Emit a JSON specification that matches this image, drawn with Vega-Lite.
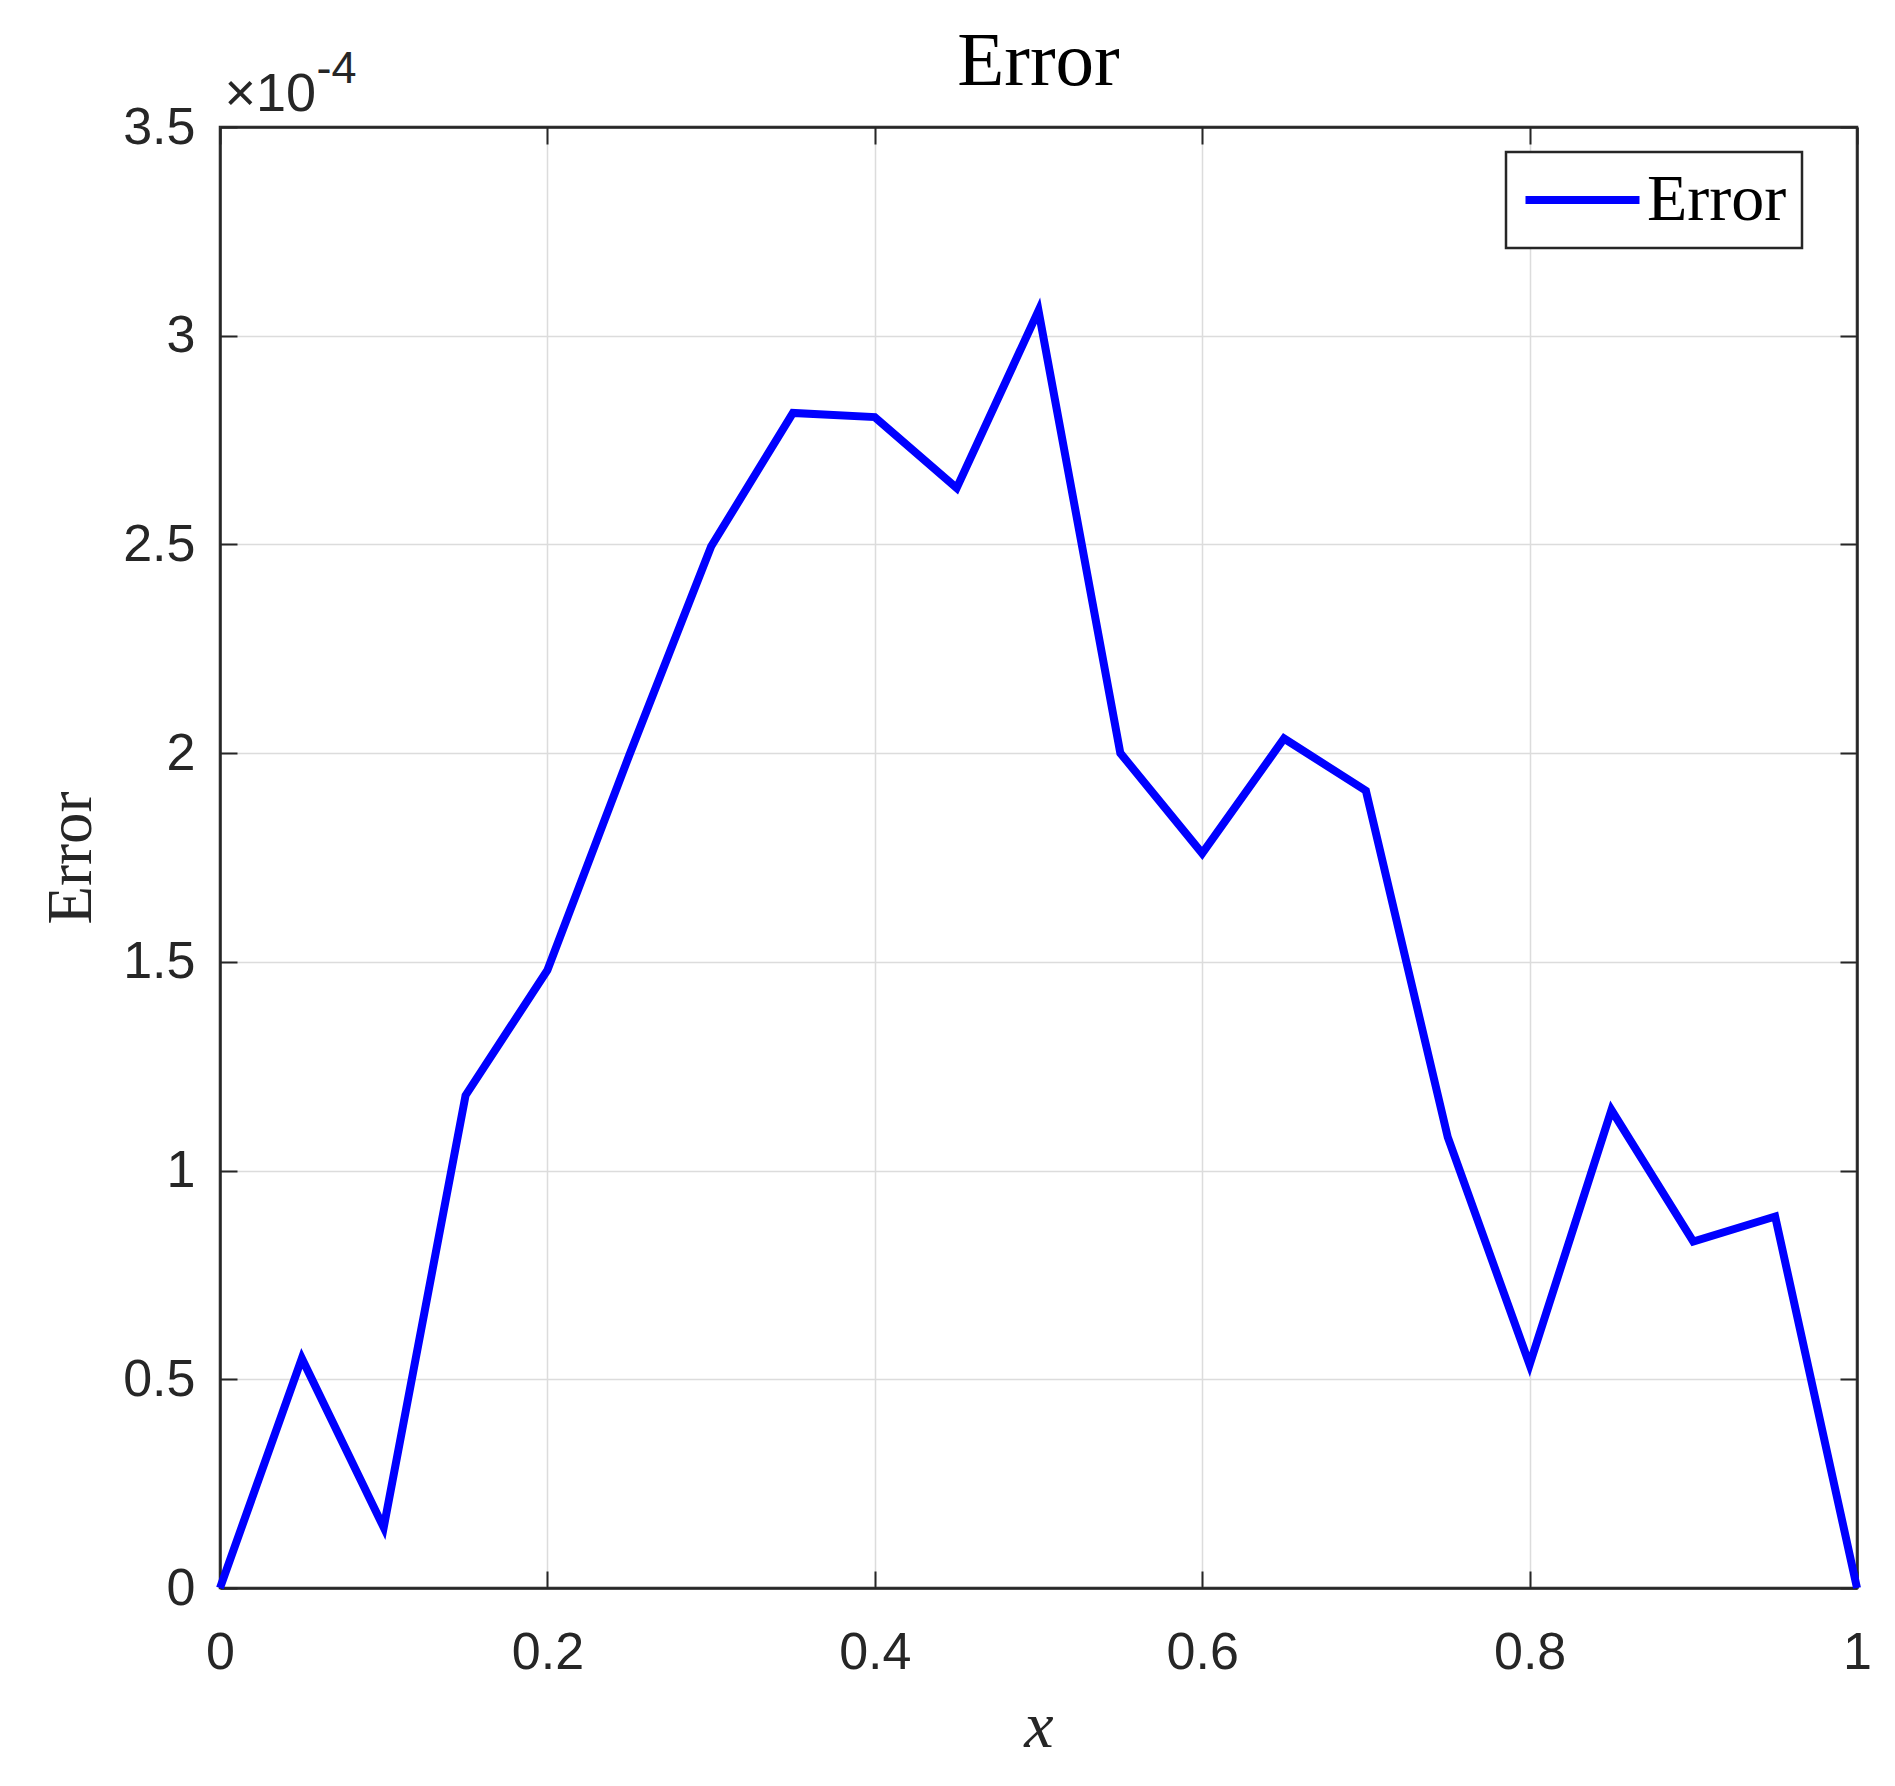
{
  "$schema": "https://vega.github.io/schema/vega-lite/v6.json",
  "width": 1637,
  "height": 1461,
  "autosize": {"type": "none"},
  "padding": {"left": 220, "top": 127, "right": 38, "bottom": 198},
  "background": "white",
  "title": {
    "text": "Error",
    "font": "Liberation Serif",
    "fontSize": 77,
    "fontWeight": "normal",
    "color": "black",
    "anchor": "middle",
    "baseline": "alphabetic",
    "offset": -116
  },
  "config": {
    "view": {"stroke": "#262626", "strokeWidth": 2.5}
  },
  "data": {
    "values": [
      {"x": 0.00, "error": 0},
      {"x": 0.05, "error": 0.000055},
      {"x": 0.10, "error": 0.0000145},
      {"x": 0.15, "error": 0.000118},
      {"x": 0.20, "error": 0.000148},
      {"x": 0.25, "error": 0.0001995},
      {"x": 0.30, "error": 0.0002495},
      {"x": 0.35, "error": 0.0002815},
      {"x": 0.40, "error": 0.0002805},
      {"x": 0.45, "error": 0.0002635},
      {"x": 0.50, "error": 0.000306},
      {"x": 0.55, "error": 0.0002},
      {"x": 0.60, "error": 0.000176},
      {"x": 0.65, "error": 0.0002035},
      {"x": 0.70, "error": 0.000191},
      {"x": 0.75, "error": 0.000108},
      {"x": 0.80, "error": 0.0000535},
      {"x": 0.85, "error": 0.0001145},
      {"x": 0.90, "error": 0.000083},
      {"x": 0.95, "error": 0.000089},
      {"x": 1.00, "error": 0}
    ]
  },
  "layer": [
    {
      "mark": {"type": "line", "opacity": 0},
      "encoding": {
        "x": {
          "field": "x",
          "type": "quantitative",
          "scale": {"domain": [0, 1], "nice": false},
          "axis": {
            "orient": "top",
            "values": [0, 0.2, 0.4, 0.6, 0.8, 1],
            "labels": false,
            "grid": false,
            "tickSize": -17,
            "tickColor": "#262626",
            "tickWidth": 2,
            "domainColor": "#262626",
            "domainWidth": 2.5,
            "title": "×10",
            "titleFont": "Liberation Sans",
            "titleFontSize": 54,
            "titleFontWeight": "normal",
            "titleColor": "#262626",
            "titleAnchor": "start",
            "titleAlign": "left",
            "titleBaseline": "alphabetic",
            "titleX": 4,
            "titleY": -17
          }
        },
        "y": {
          "field": "error",
          "type": "quantitative",
          "scale": {"domain": [0, 0.00035], "nice": false},
          "axis": {
            "orient": "right",
            "values": [0, 0.00005, 0.0001, 0.00015, 0.0002, 0.00025, 0.0003, 0.00035],
            "labels": false,
            "grid": false,
            "tickSize": -17,
            "tickColor": "#262626",
            "tickWidth": 2,
            "domainColor": "#262626",
            "domainWidth": 2.5,
            "title": "-4",
            "titleFont": "Liberation Sans",
            "titleFontSize": 45,
            "titleFontWeight": "normal",
            "titleColor": "#262626",
            "titleAngle": 0,
            "titleAlign": "left",
            "titleBaseline": "alphabetic",
            "titleX": -1541,
            "titleY": -45
          }
        }
      }
    },
    {
      "mark": {"type": "line", "strokeWidth": 8, "strokeJoin": "miter"},
      "encoding": {
        "x": {
          "field": "x",
          "type": "quantitative",
          "scale": {"domain": [0, 1], "nice": false},
          "axis": {
            "orient": "bottom",
            "values": [0, 0.2, 0.4, 0.6, 0.8, 1],
            "labelExpr": "format(datum.value, '~g')",
            "labelFont": "Liberation Sans",
            "labelFontSize": 52,
            "labelColor": "#262626",
            "labelPadding": 56,
            "labelFlush": false,
            "tickSize": -17,
            "tickColor": "#262626",
            "tickWidth": 2,
            "domainColor": "#262626",
            "domainWidth": 2.5,
            "grid": true,
            "gridColor": "#dcdcdc",
            "gridWidth": 1.5,
            "title": "x",
            "titleFont": "Liberation Serif",
            "titleFontStyle": "italic",
            "titleFontWeight": "normal",
            "titleFontSize": 66,
            "titleColor": "#262626",
            "titlePadding": 16
          }
        },
        "y": {
          "field": "error",
          "type": "quantitative",
          "scale": {"domain": [0, 0.00035], "nice": false},
          "axis": {
            "orient": "left",
            "values": [0, 0.00005, 0.0001, 0.00015, 0.0002, 0.00025, 0.0003, 0.00035],
            "labelExpr": "format(datum.value * 10000, '~g')",
            "labelFont": "Liberation Sans",
            "labelFontSize": 52,
            "labelColor": "#262626",
            "labelPadding": 42,
            "labelFlush": false,
            "tickSize": -17,
            "tickColor": "#262626",
            "tickWidth": 2,
            "domainColor": "#262626",
            "domainWidth": 2.5,
            "grid": true,
            "gridColor": "#dcdcdc",
            "gridWidth": 1.5,
            "title": "Error",
            "titleFont": "Liberation Serif",
            "titleFontWeight": "normal",
            "titleFontSize": 63,
            "titleColor": "#262626",
            "titlePadding": 19
          }
        },
        "color": {
          "datum": "Error",
          "type": "nominal",
          "scale": {"range": ["#0000ff"]},
          "legend": {
            "orient": "none",
            "legendX": 1286,
            "legendY": 25,
            "title": null,
            "strokeColor": "#262626",
            "fillColor": "white",
            "padding": 15,
            "symbolType": "M-1,0H3",
            "symbolSize": 3249,
            "symbolStrokeWidth": 8,
            "labelFont": "Liberation Serif",
            "labelFontSize": 66,
            "labelColor": "black",
            "labelBaseline": "middle",
            "labelOffset": 60,
            "labelLimit": 500,
            "encode": {"legend": {"update": {"strokeWidth": {"value": 2.5}}}}
          }
        }
      }
    }
  ],
  "resolve": {"axis": {"x": "independent", "y": "independent"}}
}
